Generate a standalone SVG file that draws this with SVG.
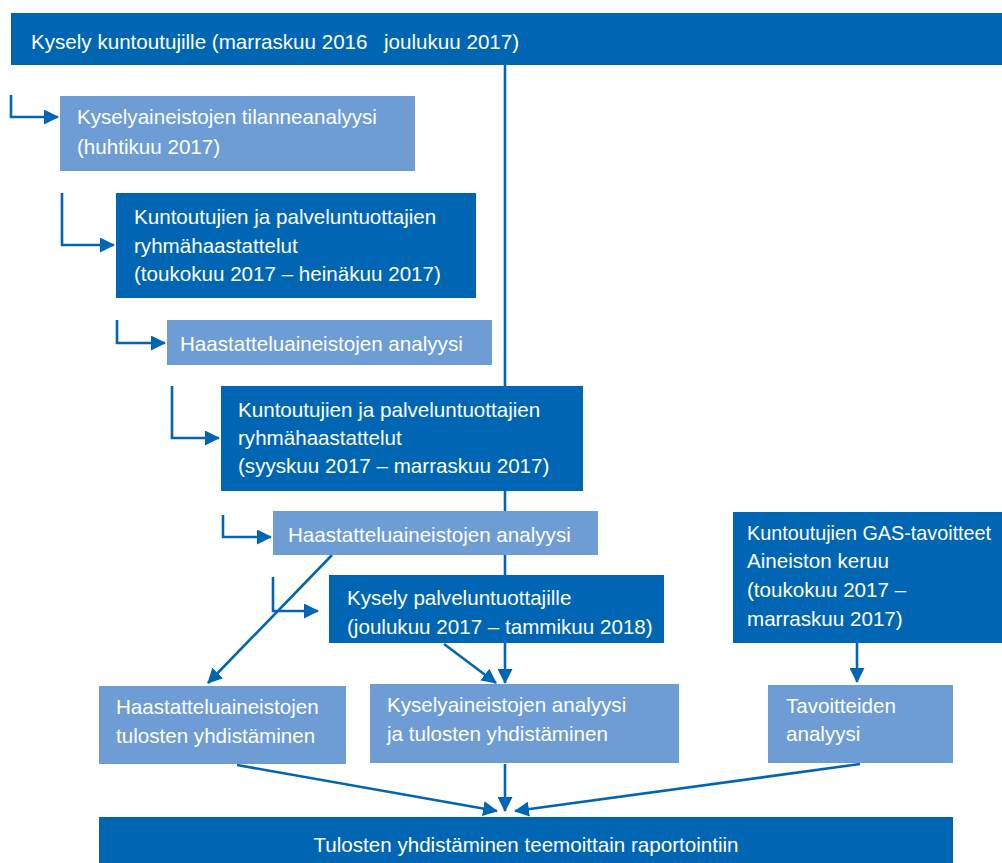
<svg xmlns="http://www.w3.org/2000/svg" width="1002" height="863" viewBox="0 0 1002 863">
<style>
.dark{fill:#0066b3}
.light{fill:#6d9dd4}
text{font-family:"Liberation Sans",Arial,sans-serif;font-size:20.6px;fill:#ffffff}
.c{fill:none;stroke:#0066b3;stroke-width:2.6}
</style>
<defs>
<marker id="ah" markerUnits="userSpaceOnUse" markerWidth="15" markerHeight="15" viewBox="0 0 15 15" refX="14" refY="7.5" orient="auto">
<path d="M0,0 L15,7.5 L0,15 Z" fill="#0066b3"/>
</marker>
</defs>
<rect width="1002" height="863" fill="#ffffff"/>
<g id="connectors">
<path class="c" d="M505,65 V683" marker-end="url(#ah)"/>
<path class="c" d="M11,95 V117 H58" marker-end="url(#ah)"/>
<path class="c" d="M62,193 V245 H114" marker-end="url(#ah)"/>
<path class="c" d="M117,320 V343 H165" marker-end="url(#ah)"/>
<path class="c" d="M172,386 V438 H219" marker-end="url(#ah)"/>
<path class="c" d="M223,515 V537 H271" marker-end="url(#ah)"/>
<path class="c" d="M273,577 V611 H318" marker-end="url(#ah)"/>
<path class="c" d="M332,555 L208,683" marker-end="url(#ah)"/>
<path class="c" d="M444,644 L496,683" marker-end="url(#ah)"/>
<path class="c" d="M857,643 V682" marker-end="url(#ah)"/>
<path class="c" d="M237,765 L497,811" marker-end="url(#ah)"/>
<path class="c" d="M505,764 V811" marker-end="url(#ah)"/>
<path class="c" d="M860,764 L515,811" marker-end="url(#ah)"/>
</g>
<g id="n1"><rect class="dark" x="11" y="13" width="991" height="52"/>
<text x="31" y="49">Kysely kuntoutujille (marraskuu 2016<tspan x="384">joulukuu 2017)</tspan></text></g>
<g id="n2"><rect class="light" x="60" y="96" width="355" height="75"/>
<text x="77" y="124">Kyselyaineistojen tilanneanalyysi</text><text x="77" y="154">(huhtikuu 2017)</text></g>
<g id="n3"><rect class="dark" x="116" y="193" width="360" height="105"/>
<text x="134" y="224">Kuntoutujien ja palveluntuottajien</text><text x="134" y="253">ryhmähaastattelut</text><text x="134" y="281">(toukokuu 2017 – heinäkuu 2017)</text></g>
<g id="n4"><rect class="light" x="167" y="320" width="325" height="45"/>
<text x="180" y="351">Haastatteluaineistojen analyysi</text></g>
<g id="n5"><rect class="dark" x="221" y="386" width="362" height="105"/>
<text x="238" y="417">Kuntoutujien ja palveluntuottajien</text><text x="238" y="445">ryhmähaastattelut</text><text x="238" y="473">(syyskuu 2017 – marraskuu 2017)</text></g>
<g id="n6"><rect class="light" x="273" y="511" width="325" height="44"/>
<text x="288" y="542">Haastatteluaineistojen analyysi</text></g>
<g id="n7"><rect class="dark" x="329" y="575" width="335" height="68"/>
<text x="347" y="605">Kysely palveluntuottajille</text><text x="347" y="634">(joulukuu 2017 – tammikuu 2018)</text></g>
<g id="n8"><rect class="dark" x="733" y="512" width="269" height="131"/>
<text x="747" y="540" style="font-size:19.8px">Kuntoutujien GAS-tavoitteet</text><text x="747" y="568">Aineiston keruu</text><text x="747" y="597">(toukokuu 2017 –</text><text x="747" y="626">marraskuu 2017)</text></g>
<g id="n9"><rect class="light" x="99" y="686" width="247" height="78"/>
<text x="116" y="714">Haastatteluaineistojen</text><text x="116" y="743">tulosten yhdistäminen</text></g>
<g id="n10"><rect class="light" x="370" y="684" width="309" height="79"/>
<text x="387" y="712">Kyselyaineistojen analyysi</text><text x="387" y="741">ja tulosten yhdistäminen</text></g>
<g id="n11"><rect class="light" x="768" y="685" width="185" height="78"/>
<text x="786" y="713">Tavoitteiden</text><text x="786" y="741">analyysi</text></g>
<g id="n12"><rect class="dark" x="99" y="817" width="854" height="46"/>
<text x="526" y="852" text-anchor="middle">Tulosten yhdistäminen teemoittain raportointiin</text></g>
</svg>
